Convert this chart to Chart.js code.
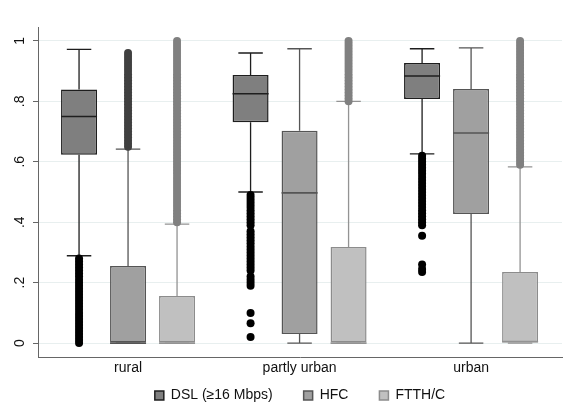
<!DOCTYPE html>
<html>
<head>
<meta charset="utf-8">
<script src="https://cdn.jsdelivr.net/npm/chart.js@4.4.1/dist/chart.umd.min.js"></script>
<style>
  html, body { margin: 0; padding: 0; background: #fff; }
  #wrap { width: 568px; height: 408px; }
</style>
</head>
<body>
<div id="wrap"><canvas id="boxChart"></canvas></div>
<script>
const categories = ['rural', 'partly urban', 'urban'];
const seriesNames = ['DSL (≥16 Mbps)', 'HFC', 'FTTH/C'];
const yTickValues = [0, 0.2, 0.4, 0.6, 0.8, 1];
const yTickLabels = ['0', '.2', '.4', '.6', '.8', '1'];

// DSL (>=16 Mbps)
const dslLower = [0.289, 0.50, 0.626];
const dslQ1 = [0.623, 0.731, 0.808];
const dslMedian = [0.75, 0.825, 0.884];
const dslQ3 = [0.839, 0.887, 0.927];
const dslUpper = [0.972, 0.96, 0.974];
const dslOutliers = [
    [0, 0.01, 0.02, 0.03, 0.04, 0.05, 0.06, 0.07, 0.08, 0.09, 0.10, 0.11, 0.12, 0.13, 0.14,
     0.15, 0.16, 0.17, 0.18, 0.19, 0.20, 0.21, 0.22, 0.23, 0.24, 0.25, 0.26, 0.27, 0.28],
    [0.49, 0.48, 0.47, 0.46, 0.45, 0.44, 0.43, 0.42, 0.41, 0.40, 0.39, 0.37, 0.36, 0.35, 0.34,
     0.33, 0.32, 0.31, 0.30, 0.29, 0.28, 0.27, 0.26, 0.25, 0.24, 0.22, 0.21, 0.20, 0.19,
     0.10, 0.066, 0.02],
    [0.62, 0.61, 0.60, 0.59, 0.58, 0.57, 0.56, 0.55, 0.54, 0.53, 0.52, 0.51, 0.50, 0.49, 0.48,
     0.47, 0.46, 0.45, 0.44, 0.43, 0.42, 0.41, 0.40, 0.39, 0.355, 0.26, 0.245, 0.235]
];

// HFC
const hfcLower = [0, 0, 0];
const hfcQ1 = [0, 0.03, 0.427];
const hfcMedian = [0, 0.497, 0.695];
const hfcQ3 = [0.255, 0.703, 0.841];
const hfcUpper = [0.642, 0.974, 0.977];
const hfcOutliers = [
    [0.65, 0.66, 0.67, 0.68, 0.69, 0.70, 0.71, 0.72, 0.73, 0.74, 0.75, 0.76, 0.77, 0.78, 0.79,
     0.80, 0.81, 0.82, 0.83, 0.84, 0.85, 0.86, 0.87, 0.88, 0.89, 0.90, 0.91, 0.92, 0.93, 0.94,
     0.95, 0.96],
    [],
    []
];

// FTTH/C
const ftthLower = [0, 0, 0];
const ftthQ1 = [0, 0, 0];
const ftthMedian = [0, 0, 0.005];
const ftthQ3 = [0.156, 0.318, 0.235];
const ftthUpper = [0.394, 0.80, 0.583];
const ftthOutliers = [
    [0.40, 0.41, 0.42, 0.43, 0.44, 0.45, 0.46, 0.47, 0.48, 0.49, 0.50, 0.51, 0.52, 0.53, 0.54,
     0.55, 0.56, 0.57, 0.58, 0.59, 0.60, 0.61, 0.62, 0.63, 0.64, 0.65, 0.66, 0.67, 0.68, 0.69,
     0.70, 0.71, 0.72, 0.73, 0.74, 0.75, 0.76, 0.77, 0.78, 0.79, 0.80, 0.81, 0.82, 0.83, 0.84,
     0.85, 0.86, 0.87, 0.88, 0.89, 0.90, 0.91, 0.92, 0.93, 0.94, 0.95, 0.96, 0.97, 0.98, 0.99, 1.0],
    [0.80, 0.81, 0.82, 0.83, 0.84, 0.85, 0.86, 0.87, 0.88, 0.89, 0.90, 0.91, 0.92, 0.93, 0.94,
     0.95, 0.96, 0.97, 0.98, 0.99, 1.0],
    [0.59, 0.60, 0.61, 0.62, 0.63, 0.64, 0.65, 0.66, 0.67, 0.68, 0.69, 0.70, 0.71, 0.72, 0.73,
     0.74, 0.75, 0.76, 0.77, 0.78, 0.79, 0.80, 0.81, 0.82, 0.83, 0.84, 0.85, 0.86, 0.87, 0.88,
     0.89, 0.90, 0.91, 0.92, 0.93, 0.94, 0.95, 0.96, 0.97, 0.98, 0.99, 1.0]
];

const fontFamily = '"Liberation Sans", Arial, sans-serif';
const fontSize = 14;
const legendPadding = 31;

function boxes(q1, q3) {
    return q1.map((v, i) => [v, q3[i]]);
}

const stats = [
    { lower: dslLower, median: dslMedian, upper: dslUpper, q1: dslQ1, q3: dslQ3, outliers: dslOutliers,
      line: '#1e1e1e', dot: '#000000' },
    { lower: hfcLower, median: hfcMedian, upper: hfcUpper, q1: hfcQ1, q3: hfcQ3, outliers: hfcOutliers,
      line: '#555555', dot: '#404040' },
    { lower: ftthLower, median: ftthMedian, upper: ftthUpper, q1: ftthQ1, q3: ftthQ3, outliers: ftthOutliers,
      line: '#939393', dot: '#808080' }
];

// whiskers, medians and outside values on top of the floating bars
const boxPlotParts = {
    id: 'boxPlotParts',
    afterDatasetsDraw(chart) {
        const ctx = chart.ctx;
        const y = chart.scales.y;
        ctx.save();
        stats.forEach((s, i) => {
            const meta = chart.getDatasetMeta(i);
            meta.data.forEach((bar, j) => {
                const x = bar.x;
                const half = bar.width / 2;
                const cap = bar.width * 0.34;
                ctx.strokeStyle = s.line;
                ctx.lineWidth = 1.3;
                ctx.beginPath();
                ctx.moveTo(x, y.getPixelForValue(s.q3[j]));
                ctx.lineTo(x, y.getPixelForValue(s.upper[j]));
                ctx.moveTo(x - cap, y.getPixelForValue(s.upper[j]));
                ctx.lineTo(x + cap, y.getPixelForValue(s.upper[j]));
                ctx.moveTo(x, y.getPixelForValue(s.q1[j]));
                ctx.lineTo(x, y.getPixelForValue(s.lower[j]));
                ctx.moveTo(x - cap, y.getPixelForValue(s.lower[j]));
                ctx.lineTo(x + cap, y.getPixelForValue(s.lower[j]));
                ctx.stroke();
                ctx.lineWidth = 1.6;
                ctx.beginPath();
                ctx.moveTo(x - half, y.getPixelForValue(s.median[j]));
                ctx.lineTo(x + half, y.getPixelForValue(s.median[j]));
                ctx.stroke();
                ctx.fillStyle = s.dot;
                s.outliers[j].forEach(v => {
                    ctx.beginPath();
                    ctx.arc(x, y.getPixelForValue(v), 4, 0, Math.PI * 2);
                    ctx.fill();
                });
            });
        });
        ctx.restore();
    }
};

// legend keeps wide item spacing, sits under the category labels, centred on the plot
const legendPlacement = {
    id: 'legendPlacement',
    beforeLayout(chart) {
        const legend = chart.legend;
        if (legend && !legend.fitPatched) {
            const fit = legend.fit;
            legend.fit = function () {
                fit.call(this);
                this.height = 27;
            };
            legend.fitPatched = true;
        }
    },
    afterLayout(chart) {
        const legend = chart.legend;
        legend.top = 397 - legendPadding - fontSize * 0.6;
        legend.bottom = chart.height;
        legend.left = chart.chartArea.left;
        legend.right = chart.chartArea.right;
    }
};

const ctx = document.getElementById('boxChart');
const boxChart = new Chart(ctx, {
    type: 'bar',
    data: {
        labels: categories,
        datasets: [{
            label: seriesNames[0],
            data: boxes(dslQ1, dslQ3),
            backgroundColor: '#7f7f7f',
            borderColor: '#1e1e1e'
        }, {
            label: seriesNames[1],
            data: boxes(hfcQ1, hfcQ3),
            backgroundColor: '#a0a0a0',
            borderColor: '#555555'
        }, {
            label: seriesNames[2],
            data: boxes(ftthQ1, ftthQ3),
            backgroundColor: '#c0c0c0',
            borderColor: '#8c8c8c'
        }]
    },
    plugins: [boxPlotParts, legendPlacement],
    options: {
        responsive: true,
        maintainAspectRatio: false,
        animation: false,
        datasets: {
            bar: {
                borderWidth: 1.5,
                borderSkipped: false,
                categoryPercentage: 0.857,
                barPercentage: 0.735
            }
        },
        layout: {
            padding: { top: 27, right: 6, left: 0, bottom: 0 }
        },
        scales: {
            x: {
                grid: { display: false, drawTicks: false },
                border: { display: true, color: '#666666', width: 1 },
                ticks: {
                    color: '#111111',
                    font: { family: fontFamily, size: fontSize },
                    padding: 3
                },
                // a little more room at both ends than the default half category
                afterBuildTicks: function (scale) {
                    scale._startValue = -0.525;
                    scale._valueRange = 3.055;
                },
                afterFit: function (scale) { scale.height = 24; }
            },
            y: {
                min: -0.046,
                max: 1.046,
                afterBuildTicks: function (scale) {
                    scale.ticks = yTickValues.map(v => ({ value: v }));
                },
                afterFit: function (scale) { scale.width = 38; },
                grid: {
                    color: '#e8efef',
                    tickColor: '#666666',
                    tickLength: 5,
                    lineWidth: 1
                },
                border: { display: true, color: '#666666', width: 1 },
                ticks: {
                    minRotation: 90,
                    maxRotation: 90,
                    crossAlign: 'center',
                    padding: 7,
                    color: '#111111',
                    font: { family: fontFamily, size: fontSize },
                    callback: function (value, index) {
                        return yTickLabels[index];
                    }
                }
            }
        },
        plugins: {
            legend: {
                position: 'bottom',
                labels: {
                    boxWidth: 9,
                    boxHeight: 9,
                    padding: legendPadding,
                    color: '#111111',
                    font: { family: fontFamily, size: fontSize }
                }
            },
            tooltip: { enabled: false }
        }
    }
});
</script>
</body>
</html>
